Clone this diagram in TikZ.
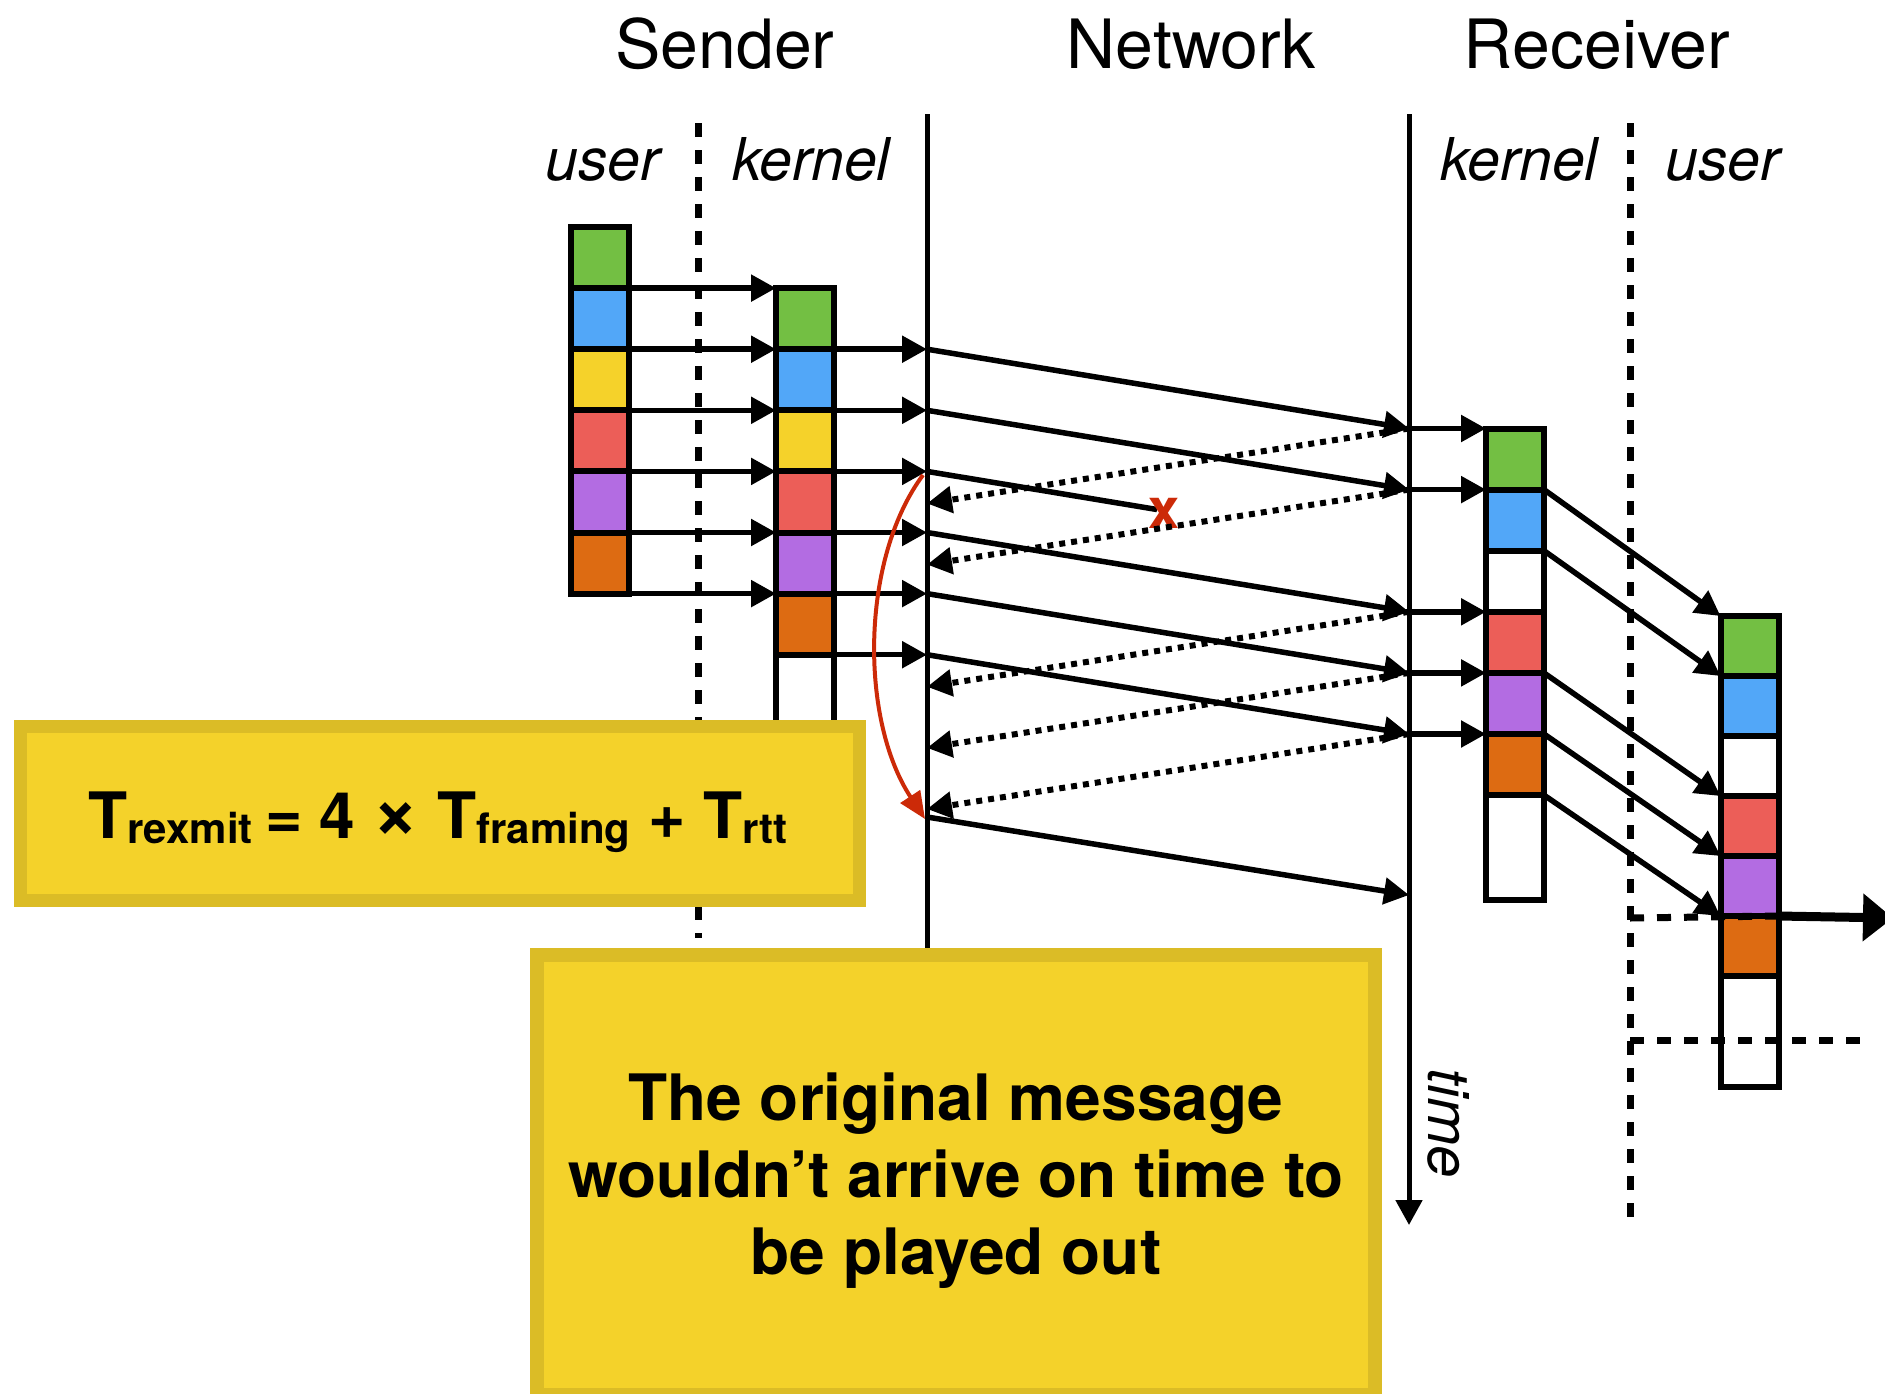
\documentclass[tikz,border=0pt]{standalone}
\usepackage{fontspec}
\setmainfont{TeX Gyre Heros}
\usetikzlibrary{arrows.meta,calc}
\definecolor{cgreen}{HTML}{73BF43}
\definecolor{cblue}{HTML}{52A7F8}
\definecolor{cyellow}{HTML}{F5D22A}
\definecolor{cred}{HTML}{EC5E58}
\definecolor{cpurple}{HTML}{B36CE2}
\definecolor{corange}{HTML}{DD6B12}
\definecolor{boxfill}{HTML}{F4D22A}
\definecolor{boxborder}{HTML}{DBBC26}
\definecolor{xred}{HTML}{CC2A08}
\newcommand{\subtxt}[1]{\raisebox{-5pt}{\fontsize{42}{42}\selectfont #1}}
\tikzset{
 cell/.style={draw, line width=6pt, inner sep=0pt, outer sep=0pt, minimum width=58pt, minimum height=61.1pt},
 arr/.style={line width=5.5pt, -{Triangle[length=25pt,width=26pt]}},
 ack/.style={line width=6pt, dash pattern=on 6pt off 6pt, -{Triangle[length=25pt,width=26pt]}},
 vline/.style={line width=5pt},
 dline/.style={line width=7pt, dash pattern=on 14pt off 13pt},
 ybox/.style={draw=boxborder, fill=boxfill, line width=13pt, inner sep=0pt},
 ttl/.style={font=\fontsize{68}{68}\selectfont, anchor=base, inner sep=0pt},
 sublbl/.style={font=\itshape\fontsize{59}{59}\selectfont, anchor=base, inner sep=0pt},
}
\begin{document}
\begin{tikzpicture}[x=1pt,y=-1pt]
\useasboundingbox (0,0) rectangle (1885,1393);

% titles
\node[ttl] (tS) at (725,68) {Sender};
\node[ttl] (tN) at (1191,68) {Network};
\node[ttl] (tR) at (1597,68) {Receiver};
\node[sublbl] (uS) at (603,180) {user};
\node[sublbl] (kS) at (811,180) {kernel};
\node[sublbl] (kR) at (1519,180) {kernel};
\node[sublbl] (uR) at (1723,180) {user};

% vertical lines
\coordinate (sdT) at (698,123); \coordinate (sdB) at (698,938);
\draw[dline] (sdT) -- (sdB);
\coordinate (rdT) at (1630,123); \coordinate (rdB) at (1630,1226);
\draw[dline] (rdT) -- (rdB);
\coordinate (nLT) at (927,114); \coordinate (nLB) at (927,948);
\draw[vline] (nLT) -- (nLB);
\coordinate (nRT) at (1409,114); \coordinate (nRB) at (1409,1225);
\draw[vline, -{Triangle[length=25pt,width=26pt]}] (nRT) -- (nRB);
\node[rotate=-90, font=\itshape\fontsize{58}{58}\selectfont, inner sep=0pt] (ttime) at (1449,1123) {time};

% cells
\foreach \c [count=\i] in {cgreen,cblue,cyellow,cred,cpurple,corange}
  \node[cell, fill=\c] (su\i) at (600,{227+61.1*(\i-0.5)}) {};
\foreach \c [count=\i] in {cgreen,cblue,cyellow,cred,cpurple,corange}
  \node[cell, fill=\c] (sk\i) at (805,{288.1+61.1*(\i-0.5)}) {};
\node[cell, fill=white, minimum height=85pt] (sk7) at (805,697.2) {};
\foreach \c [count=\i] in {cgreen,cblue,white,cred,cpurple,corange}
  \node[cell, fill=\c] (rk\i) at (1515,{428.5+61.1*(\i-0.5)}) {};
\node[cell, fill=white, minimum height=104.9pt] (rk7) at (1515,847.55) {};
\foreach \c [count=\i] in {cgreen,cblue,white,cred,cpurple,corange}
  \node[cell, minimum height=60pt, fill=\c] (ru\i) at (1749.5,{616+60*(\i-0.5)}) {};
\node[cell, fill=white, minimum height=111pt] (ru7) at (1749.5,1031.5) {};

% sender arrows
\foreach \i in {1,...,6} \draw[arr] (su\i.south east) -- (sk\i.north west);
\foreach \i in {1,...,6} {
  \coordinate (nl\i) at (sk\i.south east -| nLT);
  \draw[arr] (sk\i.south east) -- (nl\i);
}
% receiver kernel arrows
\foreach \j in {1,2,4,5,6} {
  \coordinate (nr\j) at (rk\j.north west -| nRT);
  \draw[arr] (nr\j) -- (rk\j.north west);
}
% network
\draw[arr] (nl1) -- (nr1);
\draw[arr] (nl2) -- (nr2);
\draw[arr] (nl4) -- (nr4);
\draw[arr] (nl5) -- (nr5);
\draw[arr] (nl6) -- (nr6);
\coordinate (lost) at (1157,509.5);
\draw[line width=5.5pt] (nl3) -- (lost);
\node[font=\bfseries\fontsize{56}{56}\selectfont, text=xred, inner sep=0pt] (lostx) at (1164,513) {x};
\foreach \j in {1,2,4,5,6} {
  \coordinate (ak\j) at ($(nr\j -| nLT)+(0,75)$);
  \draw[ack] (nr\j) -- (ak\j);
}
\coordinate (rtS) at (927,817); \coordinate (rtE) at (1409,895);
\draw[arr] (rtS) -- (rtE);
% red arc
\coordinate (arcS) at (923,475); \coordinate (arcE) at (925,819);
\draw[line width=4pt, xred, -{Triangle[length=27pt,width=23pt]}] (arcS) .. controls (860,560) and (860,720) .. (arcE);

% receiver kernel -> user
\foreach \j in {1,2,4,5,6} \draw[arr] (rk\j.south east) -- (ru\j.north west);

% receiver user dotted lines
\coordinate (d1L) at (1630,918);
\draw[dline] (d1L) -- (ru6.north east);
\coordinate (outR) at (1893,918);
\draw[line width=9pt, -{Triangle[length=30pt,width=46pt]}] (ru6.north east) -- (outR);
\coordinate (d2L) at (1630,1040); \coordinate (d2R) at (1862,1040);
\draw[dline] (d2L) -- (d2R);

% boxes
\node[ybox, minimum width=839pt, minimum height=174pt] (fbox) at (440,813.5) {};
\node[anchor=base, inner sep=0pt, font=\bfseries\fontsize{64}{64}\selectfont] (ftext) at (438,838)
  {T\subtxt{rexmit}\hspace{13pt}=\hspace{16pt}4 {\fontsize{80}{64}\selectfont ×} T\subtxt{framing} + T\subtxt{rtt}};
\node[ybox, line width=14pt, minimum width=838pt, minimum height=440pt] (bbox) at (956,1175) {};
\node[font=\bfseries\fontsize{64}{77}\selectfont, align=center, inner sep=0pt] (btext) at (956,1181)
  {The original message\\wouldn’t arrive on time to\\be played out};
\end{tikzpicture}
\end{document}
